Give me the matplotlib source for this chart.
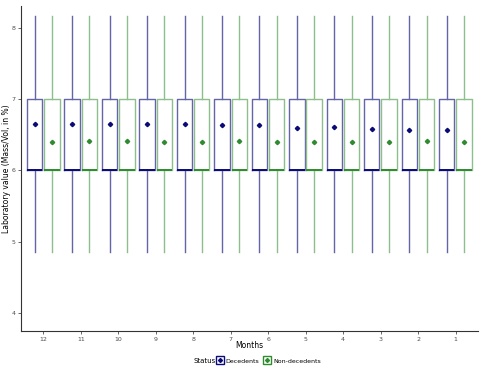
import matplotlib
matplotlib.use("Agg")
import matplotlib.pyplot as plt
from matplotlib.lines import Line2D

# months shown left to right (reversed)
months = ["12", "11", "10", "9", "8", "7", "6", "5", "4", "3", "2", "1"]

# box stats (same for both groups)
q1 = 6.0
median = 6.0
q3 = 7.0
whisk_lo = 4.86
whisk_hi = 8.17

dec_means = [6.66, 6.66, 6.65, 6.65, 6.648, 6.634, 6.634, 6.60, 6.605, 6.58, 6.563, 6.563]
non_means = [6.403, 6.413, 6.413, 6.403, 6.40, 6.413, 6.40, 6.40, 6.395, 6.395, 6.413, 6.40]

groups = ["Decedents", "Non-decedents"]
dark = {"Decedents": "#0a0a78", "Non-decedents": "#2e8b2e"}
light = {"Decedents": "#6464a8", "Non-decedents": "#8cbf8c"}

fig = plt.figure(figsize=(4.85, 3.76), dpi=100)
ax = fig.add_axes([0.0433, 0.1197, 0.9423, 0.8643])

for g, means, off in [("Decedents", dec_means, -0.235), ("Non-decedents", non_means, 0.225)]:
    stats = []
    for m in means:
        stats.append(dict(q1=q1, med=median, q3=q3, whislo=whisk_lo, whishi=whisk_hi,
                          mean=m, fliers=[]))
    pos = [i + 1 + off for i in range(len(months))]
    ax.bxp(stats, positions=pos, widths=0.41, showmeans=True, showcaps=False,
           boxprops=dict(color=light[g], linewidth=1.0),
           whiskerprops=dict(color=light[g], linewidth=1.0),
           medianprops=dict(color=dark[g], linewidth=1.4),
           meanprops=dict(marker="D", markersize=2.2, markerfacecolor=dark[g],
                          markeredgecolor=dark[g]),
           manage_ticks=False)

ax.set_xlim(0.4, 12.6)
ax.set_ylim(3.742, 8.314)
ax.set_xticks(range(1, 13))
ax.set_xticklabels(months)
ax.set_yticks([4, 5, 6, 7, 8])
ax.tick_params(labelsize=4.5, colors="#4d4d4d", length=2.5, width=0.6, pad=1.5)
for s in ["top", "right"]:
    ax.spines[s].set_visible(False)
for s in ["left", "bottom"]:
    ax.spines[s].set_color("#333333")
    ax.spines[s].set_linewidth(0.8)

ax.set_xlabel("Months", fontsize=5.5)
ax.set_ylabel("Laboratory value (Mass/Vol, in %)", fontsize=5.5)
ax.xaxis.set_label_coords(0.5, -0.031)
ax.yaxis.set_label_coords(-0.021, 0.5)

# legend at bottom
fig.text(0.398, 0.04, "Status", fontsize=5, ha="left", va="center")
handles = [Line2D([], [], marker="s", markersize=6, markerfacecolor="white",
                  markeredgecolor=dark[g], linestyle="", markeredgewidth=1.0) for g in groups]
dots = [Line2D([], [], marker="D", markersize=2, color=dark[g], linestyle="") for g in groups]
fig.legend([(h, d) for h, d in zip(handles, dots)], groups, loc="center left",
           bbox_to_anchor=(0.447, 0.04), ncol=2, frameon=False, fontsize=4.5,
           handlelength=1.0, handletextpad=0.4, columnspacing=0.8, borderpad=0,
           borderaxespad=0)

fig.savefig("out.png", dpi=100)
